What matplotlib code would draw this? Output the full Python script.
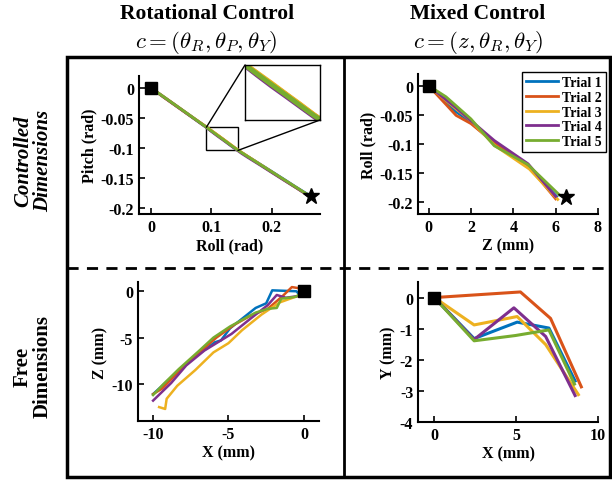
import matplotlib
matplotlib.use('Agg')
import matplotlib.pyplot as plt
from matplotlib.patches import Rectangle, ConnectionPatch
from matplotlib.lines import Line2D

plt.rcParams['font.family'] = ['Liberation Serif', 'DejaVu Serif']
plt.rcParams['font.weight'] = 'bold'
plt.rcParams['axes.labelweight'] = 'bold'
plt.rcParams['mathtext.fontset'] = 'cm'
plt.rcParams['axes.unicode_minus'] = False

colors = ['#0072BD', '#D95319', '#EDB120', '#7E2F8E', '#77AC30']
trials = ['Trial 1', 'Trial 2', 'Trial 3', 'Trial 4', 'Trial 5']

# rotational control: roll vs pitch (rad)
rot_roll = [0, .02, .04, .06, .08, .09, .10, .11, .12, .13, .14, .15, .16, .18, .20, .22, .24, .26]
rot_pitch = [
    [0, -.0140, -.0288, -.0425, -.0570, -.0640, -.0718, -.0788, -.0860, -.0940, -.1012, -.1075, -.1140, -.1265, -.1392, -.1520, -.1650, -.1775],
    [0, -.0148, -.0290, -.0432, -.0568, -.0638, -.0712, -.0786, -.0858, -.0932, -.1006, -.1076, -.1140, -.1270, -.1400, -.1530, -.1658, -.1785],
    [0, -.0138, -.0280, -.0424, -.0566, -.0636, -.0708, -.0780, -.0855, -.0928, -.1004, -.1072, -.1138, -.1268, -.1398, -.1528, -.1656, -.1790],
    [0, -.0145, -.0284, -.0430, -.0575, -.0646, -.0724, -.0800, -.0872, -.0945, -.1018, -.1090, -.1155, -.1280, -.1408, -.1535, -.1660, -.1790],
    [0, -.0142, -.0283, -.0427, -.0571, -.0642, -.0716, -.0790, -.0863, -.0937, -.1010, -.1078, -.1142, -.1270, -.1397, -.1525, -.1653, -.1780],
]
rot_goal = (0.265, -0.18)

# mixed control: z (mm) vs roll (rad)
mix_z = [
    [0, 1.3, 2.0, 3.1, 4.7, 6.05],
    [0, 1.3, 2.0, 3.1, 4.7, 6.0],
    [0, 1.3, 2.0, 3.1, 4.76, 6.1],
    [0, 1.3, 2.0, 3.1, 4.7, 6.0],
    [0, 0.82, 2.0, 3.1, 4.68, 6.17],
]
mix_roll = [
    [0, -0.045, -0.062, -0.100, -0.138, -0.190],
    [0, -0.051, -0.065, -0.098, -0.137, -0.194],
    [0, -0.040, -0.060, -0.102, -0.143, -0.195],
    [0, -0.038, -0.060, -0.094, -0.134, -0.190],
    [0, -0.019, -0.057, -0.103, -0.135, -0.187],
]
mix_goal = (6.5, -0.19)

# rotational control free dims: X vs Z (mm)
free_rot_x = [
    [0, -0.3, -0.5, -2.1, -2.5, -3.2, -4.9, -5.5, -5.9, -7.5, -9.0, -10.0],
    [0, -0.2, -0.8, -1.4, -2.4, -3.5, -4.6, -5.8, -6.8, -8.2, -9.4, -10.0],
    [0, -0.4, -1.6, -2.8, -4.1, -5.0, -6.0, -7.2, -8.4, -9.1, -9.2, -9.6],
    [0, -0.3, -1.2, -1.8, -2.4, -3.5, -4.8, -6.0, -6.6, -7.8, -8.8, -10.0],
    [0, -0.55, -1.5, -1.8, -2.4, -3.2, -4.9, -6.0, -7.0, -8.3, -9.3, -10.0],
]
free_rot_z = [
    [0, -0.35, 0.0, 0.1, -1.3, -1.8, -4.0, -5.3, -5.5, -7.4, -9.6, -11.1],
    [0, 0.3, 0.45, -0.5, -1.9, -2.6, -3.6, -5.0, -6.4, -8.5, -10.5, -11.1],
    [0, -0.5, -1.2, -2.5, -4.2, -5.6, -6.6, -8.5, -10.2, -11.6, -12.7, -12.5],
    [0, -0.5, -0.7, -0.4, -1.5, -2.9, -4.6, -5.8, -6.4, -8.0, -9.9, -11.8],
    [0, -0.6, -0.8, -1.8, -1.9, -2.3, -3.8, -5.0, -6.5, -8.4, -10.0, -11.2],
]

# mixed control free dims: X vs Y (mm)
free_mix_x = [
    [0, 2.43, 5.06, 7.0, 8.6],
    [0, 5.26, 7.1, 8.98],
    [0, 2.43, 5.06, 6.8, 8.8],
    [0, 2.43, 4.86, 6.8, 8.6],
    [0, 2.43, 4.96, 7.0, 8.56],
]
free_mix_y = [
    [0, -1.32, -0.79, -0.98, -2.68],
    [0, 0.18, -0.67, -2.87],
    [0, -0.88, -0.61, -1.51, -3.12],
    [0, -1.35, -0.33, -1.25, -3.15],
    [0, -1.39, -1.22, -1.04, -2.78],
]

W, H = 612, 481
fig = plt.figure(figsize=(W / 100, H / 100), dpi=100)


def px_axes(l, t, r, b):
    return fig.add_axes([l / W, 1 - b / H, (r - l) / W, (b - t) / H])


def style(ax):
    ax.spines['top'].set_visible(False)
    ax.spines['right'].set_visible(False)
    ax.spines['left'].set_linewidth(1.5)
    ax.spines['bottom'].set_linewidth(1.5)
    ax.tick_params(direction='in', length=4, width=1.2, labelsize=11.5)


def set_ticks(ax, xt, yt):
    ax.set_xticks(xt)
    ax.set_xticklabels([f'{v:g}' for v in xt])
    ax.set_yticks(yt)
    ax.set_yticklabels([f'{v:g}' for v in yt])


# top left
ax1 = px_axes(139, 77, 320, 215)
for i in range(5):
    ax1.plot(rot_roll, rot_pitch[i], color=colors[i], lw=2)
ax1.plot(0, 0, 's', color='k', ms=9)
ax1.plot(*rot_goal, '*', color='k', ms=12)
ax1.set_xlim(-0.02, 0.28)
ax1.set_ylim(-0.21, 0.02)
set_ticks(ax1, [0, 0.1, 0.2], [0, -0.05, -0.1, -0.15, -0.2])
ax1.set_xlabel('Roll (rad)', fontsize=11.5, labelpad=2)
ax1.set_ylabel('Pitch (rad)', fontsize=11.5, labelpad=2)
style(ax1)

zx0, zx1, zy0, zy1 = 0.0917, 0.144, -0.104, -0.0654
ax1.add_patch(Rectangle((zx0, zy0), zx1 - zx0, zy1 - zy0, fill=False, ec='k', lw=1))
ins = px_axes(245, 66, 320, 121)
for i in range(5):
    ins.plot(rot_roll, rot_pitch[i], color=colors[i], lw=3.5)
ins.set_xlim(zx0, zx1)
ins.set_ylim(zy0, zy1)
ins.set_xticks([])
ins.set_yticks([])
for s in ins.spines.values():
    s.set_linewidth(1)
for (xa, ya), (xb, yb) in [((zx0, zy1), (0, 1)), ((zx1, zy0), (1, 0))]:
    fig.add_artist(ConnectionPatch((xa, ya), (xb, yb), 'data', 'axes fraction',
                                   axesA=ax1, axesB=ins, color='k', lw=1))

# top right
ax2 = px_axes(418, 75, 598, 215)
for i in range(5):
    ax2.plot(mix_z[i], mix_roll[i], color=colors[i], lw=2, label=trials[i])
ax2.plot(0, 0, 's', color='k', ms=9)
ax2.plot(*mix_goal, '*', color='k', ms=12)
ax2.set_xlim(-0.5, 8)
ax2.set_ylim(-0.22, 0.02)
set_ticks(ax2, [0, 2, 4, 6, 8], [0, -0.05, -0.1, -0.15, -0.2])
ax2.set_xlabel('Z (mm)', fontsize=11.5, labelpad=2)
ax2.set_ylabel('Roll (rad)', fontsize=11.5, labelpad=2)
style(ax2)
handles = [Line2D([], [], color=c, lw=2) for c in colors]
leg = ax2.legend(handles, trials, loc='upper right', bbox_to_anchor=(1.044, 1.014),
                 borderaxespad=0, fancybox=False, edgecolor='k', framealpha=1,
                 fontsize=10, handlelength=2.3, borderpad=0.3, labelspacing=0.12,
                 handletextpad=0.3)
leg.get_frame().set_linewidth(1)

# bottom left
ax3 = px_axes(138, 283, 319, 422)
for i in range(5):
    ax3.plot(free_rot_x[i], free_rot_z[i], color=colors[i], lw=1.8)
ax3.plot(0, 0, 's', color='k', ms=9)
ax3.set_xlim(-11, 1)
ax3.set_ylim(-14, 1)
set_ticks(ax3, [-10, -5, 0], [0, -5, -10])
ax3.set_xlabel('X (mm)', fontsize=11.5, labelpad=2)
ax3.set_ylabel('Z (mm)', fontsize=11.5, labelpad=2)
style(ax3)

# bottom right
ax4 = px_axes(418, 283, 598, 423)
for i in range(5):
    ax4.plot(free_mix_x[i], free_mix_y[i], color=colors[i], lw=2.2)
ax4.plot(0, 0, 's', color='k', ms=9)
ax4.set_xlim(-1, 10)
ax4.set_ylim(-4, 0.5)
set_ticks(ax4, [0, 5, 10], [0, -1, -2, -3, -4])
ax4.set_xlabel('X (mm)', fontsize=11.5, labelpad=2)
ax4.set_ylabel('Y (mm)', fontsize=11.5, labelpad=2)
style(ax4)

# frame and dividers
fig.add_artist(Rectangle((67 / W, 1 - 478 / H), (610 - 67) / W, (478 - 58) / H,
                         transform=fig.transFigure, fill=False, ec='k', lw=2.5))
fig.add_artist(Line2D([344 / W, 344 / W], [1 - 58 / H, 1 - 478 / H],
                      transform=fig.transFigure, color='k', lw=2))
fig.add_artist(Line2D([67 / W, 610 / W], [1 - 269 / H, 1 - 269 / H],
                      transform=fig.transFigure, color='k', lw=2, ls=(0, (4, 3))))

# headers
fig.text(207 / W, 1 - 14 / H, 'Rotational Control', ha='center', va='center',
         fontsize=15.5, fontweight='bold')
fig.text(206 / W, 1 - 42 / H, r'$c = (\theta_R, \theta_P, \theta_Y)$', ha='center',
         va='center', fontsize=16.5)
fig.text(478 / W, 1 - 14 / H, 'Mixed Control', ha='center', va='center',
         fontsize=15.5, fontweight='bold')
fig.text(478 / W, 1 - 42 / H, r'$c = (z, \theta_R, \theta_Y)$', ha='center',
         va='center', fontsize=16.5)
fig.text(33 / W, 1 - 161 / H, 'Controlled\nDimensions', ha='center', va='center',
         rotation=90, fontsize=15, fontweight='bold', style='italic', linespacing=1.0)
fig.text(33 / W, 1 - 367 / H, 'Free\nDimensions', ha='center', va='center',
         rotation=90, fontsize=15, fontweight='bold', linespacing=1.0)

fig.savefig('out.png', dpi=100)
